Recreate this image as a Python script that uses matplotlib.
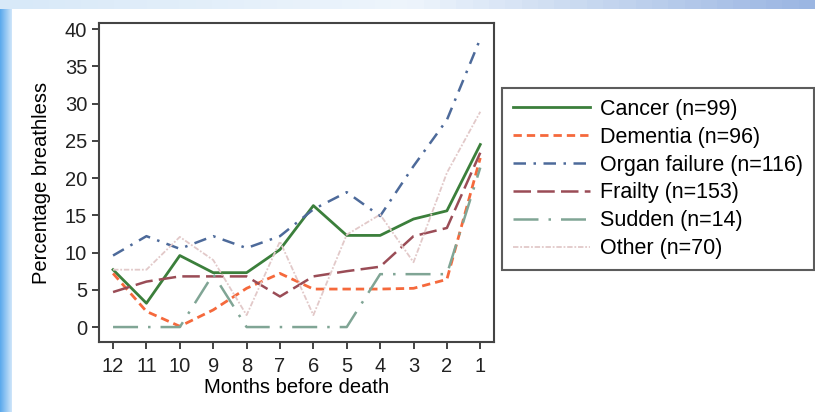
from matplotlib import pyplot as plt
import numpy as np

plt.rcParams['font.family'] = ['Liberation Sans', 'DejaVu Sans']

months = [12, 11, 10, 9, 8, 7, 6, 5, 4, 3, 2, 1]

cancer = [7.7, 3.2, 9.6, 7.3, 7.3, 10.4, 16.3, 12.3, 12.3, 14.5, 15.6, 24.5]
dementia = [7.2, 2.1, 0.1, 2.3, 5.2, 7.2, 5.1, 5.1, 5.1, 5.2, 6.4, 22.7]
organ = [9.6, 12.2, 10.5, 12.2, 10.6, 12.2, 15.8, 18.1, 14.9, 21.6, 27.8, 38.7]
frailty = [4.7, 6.1, 6.8, 6.8, 6.8, 4.1, 6.8, 7.5, 8.1, 12.2, 13.3, 23.4]
sudden = [0, 0, 0, 7.1, 0, 0, 0, 0, 7.1, 7.1, 7.1, 21.4]
other = [7.7, 7.7, 12.1, 9.0, 1.6, 11.5, 1.6, 12.4, 15.1, 8.7, 20.7, 28.9]

labels = ["Cancer (n=99)", "Dementia (n=96)", "Organ failure (n=116)",
          "Frailty (n=153)", "Sudden (n=14)", "Other (n=70)"]

fig = plt.figure(figsize=(8.15, 4.12), dpi=100)
fig.patch.set_facecolor('white')

# slide decoration: blue strip left, light band on top
grad = np.linspace(0, 1, 50).reshape(1, -1)
bl = fig.add_axes([0, 0, 0.014, 1])
bl.imshow(grad, aspect='auto', cmap=plt.matplotlib.colors.LinearSegmentedColormap.from_list(
    'b', ['#5aa8ec', '#cfe6fa']))
bl.axis('off')
top = fig.add_axes([0, 0.978, 1, 0.022])
top.imshow(grad, aspect='auto', cmap=plt.matplotlib.colors.LinearSegmentedColormap.from_list(
    't', ['#d8e9f8', '#eef5fc', '#9bb6e2']))
top.axis('off')

ax = fig.add_axes([0.1215, 0.170, 0.485, 0.774])
ax.plot(months, cancer, color='#3b7f3b', lw=2, ls='-', label=labels[0])
ax.plot(months, dementia, color='#f5693c', lw=2, ls=(0, (3, 1.8)), label=labels[1])
ax.plot(months, organ, color='#4d6a9a', lw=1.8, ls=(0, (5, 3, 1, 3)), label=labels[2])
ax.plot(months, frailty, color='#9a4c56', lw=1.8, ls=(0, (7, 2.5)), label=labels[3])
ax.plot(months, sudden, color='#80a595', lw=1.8, ls=(0, (10, 4, 1, 4)), label=labels[4])
ax.plot(months, other, color='#e2c9c9', lw=1.3, ls=(0, (3, 1, 1, 1)), label=labels[5])

ax.set_xlim(12.42, 0.58)
ax.set_ylim(-2.0, 40.8)
ax.set_xticks(months)
ax.set_yticks(range(0, 41, 5))
ax.tick_params(direction='out', length=5, width=1.2, labelsize=14.5, colors='#222222')
ax.tick_params(axis='x', pad=6)
for s in ax.spines.values():
    s.set_linewidth(1.5)
    s.set_color('#444444')
ax.set_xlabel("Months before death", fontsize=14.5, labelpad=1)
ax.set_ylabel("Percentage breathless", fontsize=14.5, labelpad=10)

leg = fig.legend(loc='upper left', bbox_to_anchor=(502 / 815, 1 - 88 / 412),
                 fontsize=15.5, frameon=True, fancybox=False, handlelength=3.6,
                 handletextpad=0.45, labelspacing=0.32, borderaxespad=0, borderpad=0.5)
leg.get_frame().set_edgecolor('#333333')
leg.get_frame().set_linewidth(1.5)

plt.savefig('out.png', dpi=100)
